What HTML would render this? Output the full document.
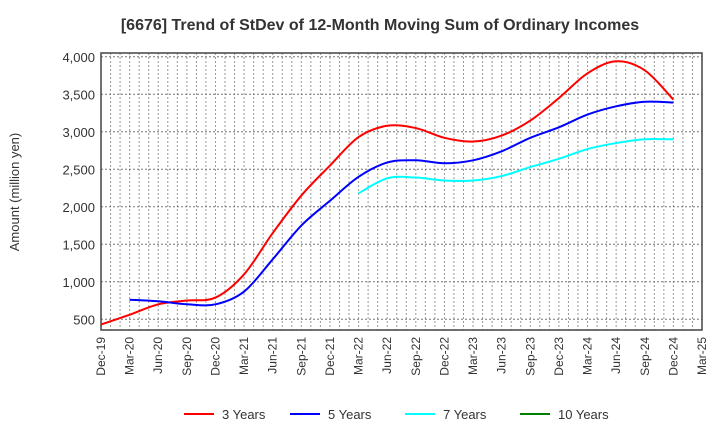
<!DOCTYPE html>
<html><head><meta charset="utf-8"><style>
body{margin:0;background:#fff;font-family:"Liberation Sans",sans-serif}
svg text{font-family:"Liberation Sans",sans-serif}
</style></head><body>
<svg id="c" width="720" height="440">
<text x="380" y="30" text-anchor="middle" font-size="16" font-weight="bold" fill="#333">[6676]  Trend of StDev of 12-Month Moving Sum of Ordinary Incomes</text>
<text transform="translate(19,192) rotate(-90)" text-anchor="middle" font-size="13" fill="#333">Amount (million yen)</text>
<g id="grid"></g><g id="axes"></g><g id="series"></g>
<g id="legend"></g>
</svg>
<script>
const xLabels=["Dec-19","Mar-20","Jun-20","Sep-20","Dec-20","Mar-21","Jun-21","Sep-21","Dec-21","Mar-22","Jun-22","Sep-22","Dec-22","Mar-23","Jun-23","Sep-23","Dec-23","Mar-24","Jun-24","Sep-24","Dec-24","Mar-25"];
const yTicks=[500,1000,1500,2000,2500,3000,3500,4000];
const y3=[430,560,700,750,790,1100,1650,2150,2550,2930,3080,3050,2920,2870,2950,3150,3450,3780,3940,3820,3430];
const y5=[null,760,740,700,700,870,1300,1750,2080,2400,2590,2620,2580,2620,2740,2920,3060,3230,3340,3400,3390];
const y7=[null,null,null,null,null,null,null,null,null,2180,2380,2390,2350,2350,2410,2530,2640,2770,2850,2900,2900];
const y10=[];
const L=101,R=702,T=53,B=330;
const xs=i=>L+i*3*(R-L)/63;
const xm=m=>L+m*(R-L)/63;
const ys=v=>319.3-(v-500)*37.5/500;
const NS="http://www.w3.org/2000/svg";
function mk(t,a,p){const e=document.createElementNS(NS,t);for(const k in a)e.setAttribute(k,a[k]);p.appendChild(e);return e;}
const grid=document.getElementById('grid'),axes=document.getElementById('axes'),ser=document.getElementById('series'),leg=document.getElementById('legend');
for(let m=1;m<63;m++){const g=mk('line',{x1:xm(m),x2:xm(m),y1:T,y2:B,stroke:'#999','stroke-dasharray':'2,2','stroke-width':1},grid);

}
yTicks.forEach(v=>{const g=mk('line',{x1:L,x2:R,y1:ys(v),y2:ys(v),stroke:'#777','stroke-dasharray':'2,2','stroke-width':1},grid);


const t=mk('text',{x:L-6,y:ys(v)+5,'text-anchor':'end','font-size':13,fill:'#333'},axes);t.textContent=v.toLocaleString('en-US');

});
const fr=mk('rect',{x:L,y:T,width:R-L,height:B-T,fill:'none',stroke:'#444','stroke-width':1.5},axes);


xLabels.forEach((s,i)=>{const t=mk('text',{transform:`translate(${xs(i)+4},337) rotate(-90)`,'text-anchor':'end','font-size':12,fill:'#333'},axes);t.textContent=s;

});
function path(arr){const p=[];arr.forEach((v,i)=>{if(v!=null)p.push([xs(i),ys(v)]);});if(p.length<2)return '';
let d=`M${p[0][0]},${p[0][1]}`;for(let i=0;i<p.length-1;i++){const p0=p[i-1]||p[i],p1=p[i],p2=p[i+1],p3=p[i+2]||p2;
d+=` C${p1[0]+(p2[0]-p0[0])/6},${p1[1]+(p2[1]-p0[1])/6} ${p2[0]-(p3[0]-p1[0])/6},${p2[1]-(p3[1]-p1[1])/6} ${p2[0]},${p2[1]}`;}return d;}
[[y3,'#ff0000','series-3-years'],[y5,'#0000ff','series-5-years'],[y7,'#00ffff','series-7-years'],[y10,'#008000','series-10-years']].forEach(([a,c,n])=>{
const d=path(a);if(!d)return;const e=mk('path',{d:d,fill:'none',stroke:c,'stroke-width':2},ser);

});
[['3 Years','#ff0000',184],['5 Years','#0000ff',290],['7 Years','#00ffff',405],['10 Years','#008000',520]].forEach(([s,c,x])=>{
const g=mk('g',{},leg);


mk('line',{x1:x,x2:x+30,y1:414,y2:414,stroke:c,'stroke-width':2},g);
const t=mk('text',{x:x+38,y:419,'font-size':13,fill:'#333'},g);t.textContent=s;});
</script>
</body></html>
